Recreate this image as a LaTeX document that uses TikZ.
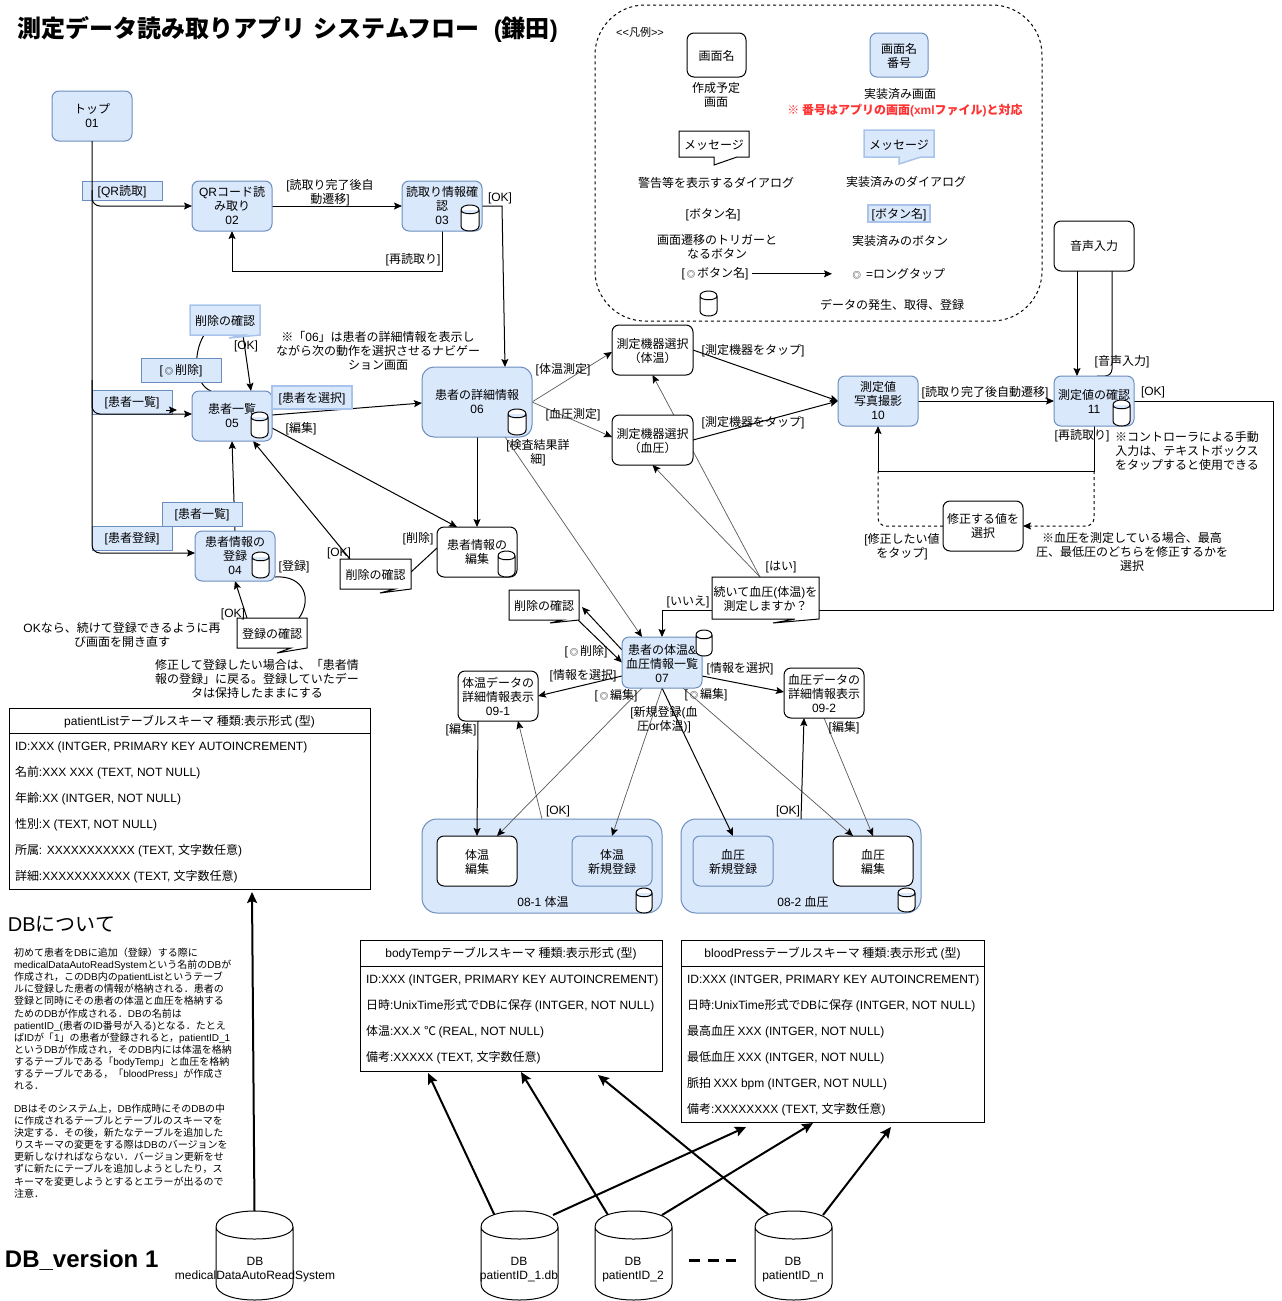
\documentclass[tikz,border=0pt]{standalone}
\usepackage{fontspec}
\setmainfont{Liberation Sans}
\newfontfamily\latinfont{Liberation Sans}
\newfontfamily\cjkfont{Noto Sans CJK JP}
\usetikzlibrary{arrows.meta,calc}
\XeTeXuseglyphmetrics=1
\newcount\mycnt
\mycnt="3000 \loop \XeTeXcharclass\mycnt=7 \advance\mycnt by 1 \ifnum\mycnt<"A000 \repeat
\mycnt="FF00 \loop \XeTeXcharclass\mycnt=7 \advance\mycnt by 1 \ifnum\mycnt<"FFF0 \repeat
\XeTeXcharclass"203B=7 \XeTeXcharclass"2103=7 \XeTeXcharclass"25CE=7
\XeTeXinterchartokenstate=1
\XeTeXinterchartoks 0 7 = {\cjkfont}
\XeTeXinterchartoks 4095 7 = {\cjkfont}
\XeTeXinterchartoks 7 0 = {\latinfont}
\XeTeXinterchartoks 4095 0 = {\latinfont}
\definecolor{bf}{HTML}{DAE8FC}
\definecolor{bs}{HTML}{6C8EBF}
\definecolor{bl}{HTML}{A9C4EB}
\definecolor{rd}{HTML}{FF3333}
\pgfdeclarelayer{back}
\pgfdeclarelayer{edges}
\pgfsetlayers{back,edges,main}
\newcommand\sz[2]{\fontsize{#1}{#2}\selectfont\lineskiplimit=-100pt }
\newcommand\lt{\makebox[12pt]{\scalebox{.7}{◎}}}
\newcommand\Rs{\rule{0pt}{12.2pt}}
\tikzset{
  every node/.style={inner sep=0pt,outer sep=0pt,align=center,font=\sz{12}{14}},
  pl/.style={yshift=-0.8pt},
  scr/.style={draw=bs,fill=bf,line width=1pt,rounded corners=7pt},
  wscr/.style={draw=black,fill=white,line width=1pt,rounded corners=7pt},
  lab/.style={draw=bs,fill=bf,line width=1pt},
  labthick/.style={draw=bl,fill=bf,line width=2pt},
  wcal/.style={draw=black,fill=white,line width=1pt},
  bcal/.style={draw=bl,fill=bf,line width=1.5pt},
  sq/.style={draw=black,fill=white,line width=1pt},
  conn/.style={draw=black,line width=1pt,-{Stealth[length=8pt,width=7pt,inset=1.5pt,color=black]}},
  plainline/.style={draw=black,line width=1pt},
  thin conn/.style={conn,line width=.7pt,draw=black!65},
  dashconn/.style={conn,dash pattern=on 3pt off 3pt},
  bigconn/.style={draw=black,line width=2pt,-{Stealth[length=11pt,width=10pt,inset=2pt]}},
  row/.style={anchor=west,text height=10.5pt,text depth=1.5pt},
}
% name, style, x1,y1,x2,y2, text
\newcommand\Bx[7]{%
  \pgfmathsetmacro\bw{#5-#3}\pgfmathsetmacro\bh{#6-#4}%
  \pgfmathsetmacro\bx{(#3+#5)/2}\pgfmathsetmacro\by{(#4+#6)/2}%
  \node[#2,minimum width=\bw pt,minimum height=\bh pt] (#1) at (\bx,\by) {#7};}
% name, style, x1,y1,x2,y2, tail points, text
\newcommand\Cal[8]{%
  \pgfmathsetmacro\bw{#5-#3}\pgfmathsetmacro\bh{#6-#4}%
  \pgfmathsetmacro\bx{(#3+#5)/2}\pgfmathsetmacro\by{(#4+#6)/2}%
  \draw[#2] (#3,#4) -- (#5,#4) -- (#5,#6) -- #7 -- (#3,#6) -- cycle;
  \node[minimum width=\bw pt,minimum height=\bh pt] (#1) at (\bx,\by) {\Rs #8};}
% cylinder: x1,y1,x2,y2,dy
\newcommand\Cyl[5]{%
  \pgfmathsetmacro\ca{#2+#5}\pgfmathsetmacro\cb{#2-#5/3}\pgfmathsetmacro\ccc{#2+2*#5}%
  \pgfmathsetmacro\cd{#4-#5}\pgfmathsetmacro\ce{#4+#5/3}%
  \draw[fill=white,line width=1pt] (#1,\ca) .. controls (#1,\cb) and (#3,\cb) .. (#3,\ca) -- (#3,\cd)
    .. controls (#3,\ce) and (#1,\ce) .. (#1,\cd) -- cycle
    (#1,\ca) .. controls (#1,\ccc) and (#3,\ccc) .. (#3,\ca);}
\begin{document}
\begin{tikzpicture}[x=1pt,y=-1pt]
\useasboundingbox (0,0) rectangle (1282,1301);
\node[anchor=west,font=\sz{24}{28}\bfseries] (title) at (17,29) {測定データ読み取りアプリ\hspace{9pt}システムフロー\hspace{14pt}(鎌田)};

% legend
\begin{pgfonlayer}{back}
\fill[white] (0,0) rectangle (1282,1301);
\Bx{legend}{draw=black,fill=white,line width=1pt,rounded corners=50pt,dash pattern=on 3pt off 3pt}{595}{5}{1042}{321}{}
\Bx{g1}{scr,rounded corners=15pt}{422}{819}{662}{913}{}
\Bx{g2}{scr,rounded corners=15pt}{681}{819}{921}{913}{}
\end{pgfonlayer}
\node[pl,font=\sz{11}{13}] (lgT) at (640,32) {<<凡例>>};
\Bx{lgA}{wscr}{687}{33}{746}{77}{\Rs 画面名}
\node[pl] (lgAt) at (716,94) {作成予定\\画面};
\Bx{lgB}{scr}{870}{33}{928}{77}{\Rs 画面名\\番号}
\node[pl] (lgBt) at (900,93) {実装済み画面};
\node[pl,text=rd,font=\sz{12}{14}\bfseries] (lgR) at (905,110) {※ 番号はアプリの画面(xmlファイル)と対応};
\Cal{lgC}{wcal}{679}{131}{749}{157}{(737,157)--(714,165)--(714,157)}{メッセージ}
\Cal{lgD}{bcal}{864}{130}{934}{157}{(921,157)--(899,164)--(899,157)}{メッセージ}
\node[pl] (lgCt) at (716,182) {警告等を表示するダイアログ};
\node[pl] (lgDt) at (906,181) {実装済みのダイアログ};
\node[pl] (lgE) at (713,214) {[ボタン名]};
\Bx{lgF}{labthick}{868}{205}{930}{222}{\Rs [ボタン名]}
\node[pl] (lgEt) at (717,246) {画面遷移のトリガーと\\なるボタン};
\node[pl] (lgFt) at (900,240) {実装済みのボタン};
\node[pl] (lgG) at (715,273) {[\lt ボタン名]};
\node[pl] (lgH) at (898,273) {\lt\ =ロングタップ};
\Cyl{700}{291}{717}{316}{5}
\node[pl] (lgI) at (892,304) {データの発生、取得、登録};

% screens
\Bx{n01}{scr}{52}{91}{132}{141}{トップ\\01}
\Bx{n02}{scr}{192}{181}{272}{231}{QRコード読\\み取り\\02}
\Bx{n03}{scr}{402}{181}{482}{231}{読取り情報確\\認\\03}
\Cyl{461}{205}{479}{231}{5}
\Bx{n05}{scr}{192}{391}{272}{441}{患者一覧\\05}
\Cyl{251}{412}{268}{438}{5}
\Bx{n06}{scr,rounded corners=12pt}{422}{367}{532}{437}{患者の詳細情報\\06}
\Cyl{508}{409}{526}{435}{5}
\Bx{n04}{scr}{195}{531}{275}{581}{患者情報の\\登録\\04}
\Cyl{252}{552}{269}{578}{5}
\Bx{edit}{wscr}{437}{527}{517}{577}{患者情報の\\編集}
\Cyl{498}{551}{515}{577}{5}
\Bx{m1}{wscr}{612}{325}{693}{375}{\Rs 測定機器選択\\（体温）}
\Bx{m2}{wscr}{612}{415}{693}{465}{\Rs 測定機器選択\\（血圧）}
\Bx{n10}{scr}{838}{376}{918}{426}{測定値\\写真撮影\\10}
\Bx{n11}{scr}{1054}{376}{1134}{426}{測定値の確認\\11}
\Cyl{1113}{400}{1130}{426}{5}
\Bx{voice}{wscr}{1054}{221}{1134}{271}{音声入力}
\Bx{fix}{wscr}{943}{501}{1023}{551}{修正する値を\\選択}
\Bx{n07}{scr}{622}{637}{702}{688}{\Rs 患者の体温\&\\血圧情報一覧\\07}
\Cyl{696}{630}{712}{656}{5}
\Bx{d1}{wscr}{458}{671}{538}{721}{体温データの\\詳細情報表示\\09-1}
\Bx{d2}{wscr}{784}{668}{864}{718}{血圧データの\\詳細情報表示\\09-2}
\Bx{e1}{wscr}{437}{836}{517}{886}{\Rs 体温\\編集}
\Bx{r1}{scr}{572}{836}{652}{886}{\Rs 体温\\新規登録}
\Bx{r2}{scr}{693}{836}{773}{886}{\Rs 血圧\\新規登録}
\Bx{e2}{wscr}{833}{836}{913}{886}{\Rs 血圧\\編集}
\node[pl] (g1t) at (543,901) {08-1 体温};
\node[pl] (g2t) at (803,901) {08-2 血圧};
\Cyl{636}{888}{652}{913}{5}
\Cyl{898}{888}{915}{912}{5}

% dialogs
\Cal{delb}{bcal}{190}{305}{260}{335}{(229,338)--(243,335)}{削除の確認}
\Cal{delw}{wcal}{340}{559}{411}{589}{(380,593)--(395,589)}{削除の確認}
\Cal{regc}{wcal}{237}{618}{307}{648}{(277,653)--(291,648)}{登録の確認}
\Cal{del7}{wcal}{509}{590}{579}{620}{(550,623)--(563,620)}{削除の確認}
\Cal{ask}{wcal}{712}{577}{819}{619}{(773,623)--(795,619)}{続いて血圧(体温)を\\測定しますか？}

% blue button labels
\Bx{bQR}{lab}{82}{181}{162}{200}{\Rs [QR読取]}
\Bx{bDel}{lab}{141}{358}{221}{382}{\Rs [\lt 削除]}
\Bx{bL1}{lab}{92}{390}{172}{414}{\Rs [患者一覧]}
\Bx{bSel}{labthick}{272}{386}{352}{409}{\Rs [患者を選択]}
\Bx{bL2}{lab}{162}{502}{242}{526}{\Rs [患者一覧]}
\Bx{bReg}{lab}{92}{526}{172}{550}{\Rs [患者登録]}

% plain labels
\node[pl] (l1) at (330,192) {[読取り完了後自\\動遷移]};
\node[pl] (l2) at (413,259) {[再読取り]};
\node[pl] (l3) at (500,198) {[OK]};
\node[pl] (l4) at (246,346) {[OK]};
\node[pl] (l5) at (301,428) {[編集]};
\node[pl] (l6) at (339,553) {[OK]};
\node[pl] (l7) at (418,538) {[削除]};
\node[pl] (l8) at (294,566) {[登録]};
\node[pl] (l9) at (233,614) {[OK]};
\node[pl] (l10) at (122,634.5) {OKなら、続けて登録できるように再\\び画面を開き直す};
\node[pl] (l11) at (257,678) {修正して登録したい場合は、「患者情\\報の登録」に戻る。登録していたデー\\タは保持したままにする};
\node[pl] (l12) at (378,350) {※「06」は患者の詳細情報を表示し\\ながら次の動作を選択させるナビゲー\\ション画面};
\node[pl] (l13) at (563,369) {[体温測定]};
\node[pl] (l14) at (573,414) {[血圧測定]};
\node[pl] (l15) at (538,452) {[検査結果詳\\細]};
\node[pl] (l16) at (753,350) {[測定機器をタップ]};
\node[pl] (l17) at (753,422) {[測定機器をタップ]};
\node[pl] (l18) at (985,392) {[読取り完了後自動遷移]};
\node[pl] (l19) at (1153,392) {[OK]};
\node[pl] (l20) at (1122,361) {[音声入力]};
\node[pl] (l21) at (1082,435) {[再読取り]};
\node[pl] (l22) at (902,546) {[修正したい値\\をタップ]};
\node[pl] (l23) at (1187,450) {※コントローラによる手動\\入力は、テキストボックス\\をタップすると使用できる};
\node[pl] (l24) at (1132,551) {※血圧を測定している場合、最高\\圧、最低圧のどちらを修正するかを\\選択};
\node[pl] (l25) at (781,566) {[はい]};
\node[pl] (l26) at (688,601) {[いいえ]};
\node[pl] (l27) at (586,651) {[\lt 削除]};
\node[pl] (l28) at (583,675) {[情報を選択]};
\node[pl] (l29) at (740,668) {[情報を選択]};
\node[pl] (l30) at (616,695) {[\lt 編集]};
\node[pl] (l31) at (706,694) {[\lt 編集]};
\node[pl] (l32) at (664,719) {[新規登録(血\\圧or体温)]};
\node[pl] (l33) at (461,729) {[編集]};
\node[pl] (l34) at (558,811) {[OK]};
\node[pl] (l35) at (788,811) {[OK]};
\node[pl] (l36) at (844,727) {[編集]};

% tables
\Bx{tpH}{sq}{9}{708}{370}{733}{\Rs patientListテーブルスキーマ 種類:表示形式 (型)}
\Bx{tp}{sq}{9}{733}{370}{889}{}
\node[row] (tp1) at (15,746) {ID:XXX (INTGER, PRIMARY KEY AUTOINCREMENT)};
\node[row] (tp2) at (15,772) {名前:XXX XXX (TEXT, NOT NULL)};
\node[row] (tp3) at (15,798) {年齢:XX (INTGER, NOT NULL)};
\node[row] (tp4) at (15,824) {性別:X (TEXT, NOT NULL)};
\node[row] (tp5) at (15,850) {所属: XXXXXXXXXXX (TEXT, 文字数任意)};
\node[row] (tp6) at (15,876) {詳細:XXXXXXXXXXX (TEXT, 文字数任意)};
\Bx{tbH}{sq}{360}{940}{662}{966}{\Rs bodyTempテーブルスキーマ 種類:表示形式 (型)}
\Bx{tb}{sq}{360}{966}{662}{1071}{}
\node[row] (tb1) at (366,979) {ID:XXX (INTGER, PRIMARY KEY AUTOINCREMENT)};
\node[row] (tb2) at (366,1005) {日時:UnixTime形式でDBに保存 (INTGER, NOT NULL)};
\node[row] (tb3) at (366,1031) {体温:XX.X ℃ (REAL, NOT NULL)};
\node[row] (tb4) at (366,1057) {備考:XXXXX (TEXT, 文字数任意)};
\Bx{tcH}{sq}{681}{940}{984}{966}{\Rs bloodPressテーブルスキーマ 種類:表示形式 (型)}
\Bx{tc}{sq}{681}{966}{984}{1122}{}
\node[row] (tc1) at (687,979) {ID:XXX (INTGER, PRIMARY KEY AUTOINCREMENT)};
\node[row] (tc2) at (687,1005) {日時:UnixTime形式でDBに保存 (INTGER, NOT NULL)};
\node[row] (tc3) at (687,1031) {最高血圧 XXX (INTGER, NOT NULL)};
\node[row] (tc4) at (687,1057) {最低血圧 XXX (INTGER, NOT NULL)};
\node[row] (tc5) at (687,1083) {脈拍 XXX bpm (INTGER, NOT NULL)};
\node[row] (tc6) at (687,1109) {備考:XXXXXXXX (TEXT, 文字数任意)};

% DB notes
\node[anchor=west,font=\sz{20}{24}] (dbh) at (8,924) {DBについて};
\node[anchor=north west,align=left,font=\sz{10}{12.1}] (para1) at (14,948) {初めて患者をDBに追加（登録）する際に\\medicalDataAutoReadSystemという名前のDBが\\作成され，このDB内のpatientListというテーブ\\ルに登録した患者の情報が格納される．患者の\\登録と同時にその患者の体温と血圧を格納する\\ためのDBが作成される．DBの名前は\\patientID\_(患者のID番号が入る)となる．たとえ\\ばIDが「1」の患者が登録されると，patientID\_1\\というDBが作成され，そのDB内には体温を格納\\するテーブルである「bodyTemp」と血圧を格納\\するテーブルである，「bloodPress」が作成さ\\れる．};
\node[anchor=north west,align=left,font=\sz{10}{12.1}] (para2) at (14,1104) {DBはそのシステム上，DB作成時にそのDBの中\\に作成されるテーブルとテーブルのスキーマを\\決定する．その後，新たなテーブルを追加した\\りスキーマの変更をする際はDBのバージョンを\\更新しなければならない．バージョン更新をせ\\ずに新たにテーブルを追加しようとしたり，ス\\キーマを変更しようとするとエラーが出るので\\注意．};
\node[anchor=west,font=\sz{24}{28}\bfseries] (ver) at (5,1260) {DB\_version 1};

% database cylinders
\Cyl{216}{1211}{293}{1300}{16}
\node (db0) at (254.5,1255.5) [minimum width=77pt,minimum height=89pt] {};
\node[pl] (db0t) at (255,1269) {DB\\medicalDataAutoReadSystem};
\Cyl{481}{1211}{558}{1300}{16}
\node (p1) at (519.5,1255.5) [minimum width=77pt,minimum height=89pt] {};
\node[pl] (p1t) at (519,1269) {DB\\patientID\_1.db};
\Cyl{595}{1211}{672}{1300}{16}
\node (p2) at (633.5,1255.5) [minimum width=77pt,minimum height=89pt] {};
\node[pl] (p2t) at (633,1269) {DB\\patientID\_2};
\Cyl{755}{1211}{832}{1300}{16}
\node (pn) at (793.5,1255.5) [minimum width=77pt,minimum height=89pt] {};
\node[pl] (pnt) at (793,1269) {DB\\patientID\_n};
\path (p2.east) ++(17,4.5) coordinate (dotA) (pn.west) ++(-19,4.5) coordinate (dotB);
\draw[line width=3pt,dash pattern=on 11pt off 7.5pt] (dotA) -- (dotB);

\begin{pgfonlayer}{edges}
\draw[conn] ([xshift=37pt]lgG.center) -- ([xshift=-66pt]lgH.center);
\draw[conn] (n02.east) -- (n03.west);
\draw[conn] (n03.south) -- ++(0,40) -| (n02.south);
\draw[conn] (n03.east) -- ++(20,0) -- ([xshift=28pt]n06.north);
\draw[plainline] ([xshift=-21pt]n05.north) .. controls +(-16,-6) and +(-12,20) .. ([xshift=-21pt]delb.south);
\draw[conn] ([xshift=18pt]delb.south) -- ([xshift=19pt]n05.north);
\draw[conn] ([yshift=1pt]n05.east) -- ([yshift=-1pt]n06.west);
\draw[conn] ([yshift=-12pt]n05.east) -- ([xshift=-20pt]edit.north);
\draw[conn] (n06.south) -- (edit.north);
\draw[conn] (n04.north) -- (n05.south);
\draw[conn] ([xshift=-25.5pt]delw.north) -- ([xshift=21pt]n05.south);
\draw[plainline] ([yshift=4pt]edit.west) -- ([yshift=2pt]delw.east);
\draw[conn] ([xshift=-25pt]regc.north) -- (n04.south);
\draw[plainline] ([yshift=-21pt]n04.east) .. controls +(30,-2) and +(13,-18) .. ([xshift=27pt]regc.north);
\draw[thin conn] (n06.east) -- ([yshift=-2pt]m1.west);
\draw[thin conn] (n06.east) -- ([yshift=3pt]m2.west);
\draw[thin conn] ([xshift=28pt]n06.south) -- ([xshift=-20pt]n07.north);
\draw[conn] (m1.east) -- (n10.west);
\draw[conn] (m2.east) -- (n10.west);
\draw[conn] (n10.east) -- (n11.west);
\draw[plainline] (n11.east) -- ++(139,0) |- ([yshift=-12pt]ask.east);
\draw[conn] ([yshift=-12pt]ask.west) -| (n07.north);
\draw[thin conn] ([xshift=-5.5pt]ask.north) -- (m1.south);
\draw[thin conn] ([xshift=-5.5pt]ask.north) -- (m2.south);
\draw[conn] ([xshift=-17pt]voice.south) -- ([xshift=-17pt]n11.north);
\draw[plainline,rounded corners=7pt] ([xshift=18pt]voice.south) |- ([xshift=3pt]n11.north);
\coordinate (j1) at ([yshift=-45pt]n11.south);
\coordinate (j2) at ([yshift=-45pt]n10.south);
\draw[plainline] (n11.south) -- (j1) -- (j2);
\draw[conn] (j2) -- (n10.south);
\draw[dashconn,rounded corners=8pt] (j1) |- (fix.east);
\draw[plainline,dash pattern=on 3pt off 3pt,rounded corners=8pt] (fix.west) -| (j2);
\draw[conn] ([yshift=12.5pt]n07.west) -- ([xshift=3pt,yshift=-2pt]del7.east);
\draw[conn] ([xshift=34pt]del7.south) -- (n07.west);
\draw[conn] ([yshift=-13.5pt]n07.west) -- (d1.east);
\draw[conn] ([yshift=-13.5pt]n07.east) -- ([yshift=1pt]d2.west);
\draw[thin conn] ([xshift=-20pt]n07.south) -- ([xshift=20pt]e1.north);
\draw[thin conn] ([xshift=21pt]n07.south) -- ([xshift=-20pt]e2.north);
\draw[thin conn] (n07.south) -- (r1.north);
\draw[conn] (n07.south) -- (r2.north);
\draw[conn] ([xshift=-20pt]d1.south) -- (e1.north);
\draw[thin conn] (g1.north) -- ([xshift=20pt]d1.south);
\draw[conn] (g2.north) -- ([xshift=-20pt]d2.south);
\draw[thin conn] (d2.south) -- (e2.north);
\draw[bigconn] (db0.north) -- ([xshift=62.5pt,yshift=-3pt]tp.south);
\draw[bigconn] ([xshift=-25pt,yshift=-4pt]p1.north) -- ([xshift=-83pt,yshift=-2pt]tb.south);
\draw[bigconn] ([xshift=-25.5pt,yshift=-4pt]p2.north) -- ([xshift=10pt,yshift=-1pt]tb.south);
\draw[bigconn] ([xshift=-24.5pt,yshift=-4pt]pn.north) -- ([xshift=87pt,yshift=-4pt]tb.south);
\draw[bigconn] ([xshift=33.5pt,yshift=-4pt]p1.north) -- ([xshift=-86.5pt,yshift=-5pt]tc.south);
\draw[bigconn] ([xshift=28.5pt,yshift=-4pt]p2.north) -- ([xshift=-19.5pt,yshift=-1pt]tc.south);
\draw[bigconn] ([xshift=29.5pt,yshift=-4pt]pn.north) -- ([xshift=58.5pt,yshift=-5pt]tc.south);
\end{pgfonlayer}
% trunk from the top screen runs over the labels; branches start lower on it
\draw[conn,rounded corners=8pt] (n01.south) |- ([yshift=3pt]n04.west);
\draw[conn,rounded corners=8pt] ([yshift=-49pt]n01.south) |- (n02.west);
\draw[conn,rounded corners=8pt] ([yshift=-239pt]n01.south) |- ([yshift=2pt]n05.west);
\draw[conn] ([xshift=-6pt,yshift=-8pt]bL1.east) -- ([xshift=5pt,yshift=-8pt]bL1.east);
\end{tikzpicture}
\end{document}
